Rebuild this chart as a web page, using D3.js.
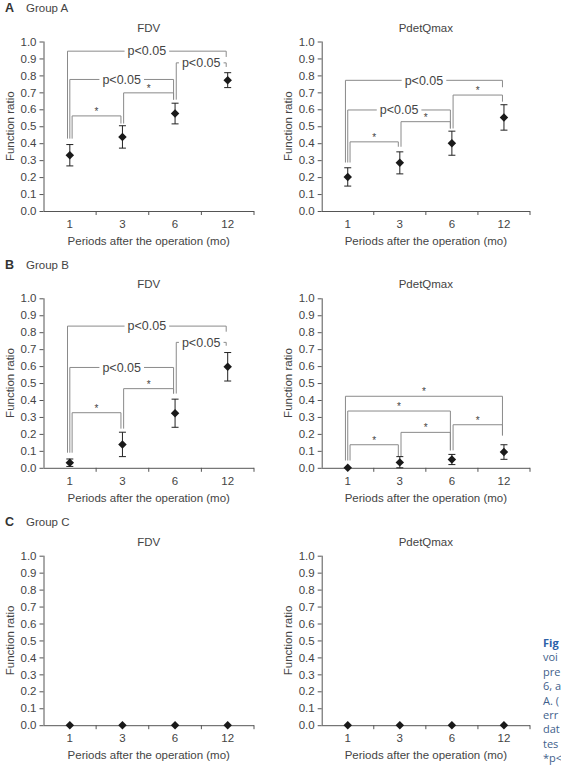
<!DOCTYPE html>
<html>
<head>
<meta charset="utf-8">
<script src="https://cdn.jsdelivr.net/npm/d3@7"></script>
<style>
  body { margin: 0; background: #fff; }
  svg { display: block; font-family: "Liberation Sans", Arial, sans-serif; }
</style>
</head>
<body>
<div id="chart"></div>
<script>
// Periods (months after the operation)
const periods = ['1', '3', '6', '12'];

// Group A
const aFdvMean = [0.329, 0.437, 0.575, 0.772];
const aFdvErr = [0.063, 0.066, 0.061, 0.044];
const aPdetMean = [0.201, 0.284, 0.400, 0.552];
const aPdetErr = [0.054, 0.065, 0.071, 0.075];

// Group B
const bFdvMean = [0.030, 0.138, 0.322, 0.596];
const bFdvErr = [0.022, 0.072, 0.083, 0.084];
const bPdetMean = [0.000, 0.032, 0.049, 0.093];
const bPdetErr = [0.000, 0.034, 0.030, 0.043];

// Group C
const cFdvMean = [0, 0, 0, 0];
const cPdetMean = [0, 0, 0, 0];
const cErr = [0, 0, 0, 0];

// Significance brackets: [from, to, bar level, left foot, right foot, label]
const aFdvSig = [
  ['1', '3', 0.561, 0.427, 0.516, '*'],
  ['3', '6', 0.697, 0.516, 0.657, '*'],
  ['1', '6', 0.776, 0.427, 0.657, 'p<0.05'],
  ['6', '12', 0.874, 0.657, 0.850, 'p<0.05'],
  ['1', '12', 0.943, 0.427, 0.909, 'p<0.05']
];
const aPdetSig = [
  ['1', '3', 0.408, 0.286, 0.379, '*'],
  ['3', '6', 0.527, 0.379, 0.487, '*'],
  ['1', '6', 0.596, 0.286, 0.487, 'p<0.05'],
  ['6', '12', 0.684, 0.487, 0.645, '*'],
  ['1', '12', 0.771, 0.286, 0.730, 'p<0.05']
];
const bFdvSig = [
  ['1', '3', 0.325, 0.089, 0.231, '*'],
  ['3', '6', 0.467, 0.231, 0.438, '*'],
  ['1', '6', 0.592, 0.089, 0.438, 'p<0.05'],
  ['6', '12', 0.740, 0.438, 0.720, 'p<0.05'],
  ['1', '12', 0.836, 0.089, 0.803, 'p<0.05']
];
const bPdetSig = [
  ['1', '3', 0.136, 0.043, 0.067, '*'],
  ['3', '6', 0.209, 0.067, 0.103, '*'],
  ['6', '12', 0.254, 0.103, 0.191, '*'],
  ['1', '6', 0.335, 0.043, 0.103, '*'],
  ['1', '12', 0.422, 0.043, 0.191, '*']
];

const yTicks = [0, 0.1, 0.2, 0.3, 0.4, 0.5, 0.6, 0.7, 0.8, 0.9, 1.0];

// caption of the figure, only its start shows at the page edge
const captionLines = ['Fig', 'voi', 'pre', '6, a', 'A. (', 'err', 'dat', 'tes', '*p<'];

const rows = [
  { letter: 'A', name: 'Group A', top: 41.5,
    panels: [
      { title: 'FDV', mean: aFdvMean, err: aFdvErr, sig: aFdvSig },
      { title: 'PdetQmax', mean: aPdetMean, err: aPdetErr, sig: aPdetSig }
    ] },
  { letter: 'B', name: 'Group B', top: 298.3,
    panels: [
      { title: 'FDV', mean: bFdvMean, err: bFdvErr, sig: bFdvSig },
      { title: 'PdetQmax', mean: bPdetMean, err: bPdetErr, sig: bPdetSig }
    ] },
  { letter: 'C', name: 'Group C', top: 555.7,
    panels: [
      { title: 'FDV', mean: cFdvMean, err: cErr, sig: [] },
      { title: 'PdetQmax', mean: cPdetMean, err: cErr, sig: [] }
    ] }
];

const width = 561, height = 771;
const plotH = 169.5;
const cols = [{ x0: 43.5, x1: 254 }, { x0: 321.7, x1: 530 }];

const axisColor = '#555';
const textColor = '#444';
const bracketColor = '#8a8a8a';

const svg = d3.select('#chart').append('svg')
  .attr('width', width)
  .attr('height', height)
  .attr('viewBox', [0, 0, width, height]);

rows.forEach(row => {
  // Row heading
  svg.append('text')
    .attr('x', 5).attr('y', row.top - 29.5)
    .attr('font-size', 12.5).attr('font-weight', 'bold')
    .attr('fill', '#333')
    .text(row.letter);
  svg.append('text')
    .attr('x', 26).attr('y', row.top - 29.5)
    .attr('font-size', 11.5)
    .attr('fill', textColor)
    .text(row.name);

  row.panels.forEach((p, ci) => {
    const c = cols[ci];
    const x = d3.scaleBand().domain(periods).range([c.x0, c.x1]).padding(0);
    const y = d3.scaleLinear().domain([0, 1]).range([row.top + plotH, row.top]);
    const g = svg.append('g');

    // Title
    g.append('text')
      .attr('x', (c.x0 + c.x1) / 2).attr('y', row.top - 10)
      .attr('text-anchor', 'middle')
      .attr('font-size', 11.5).attr('fill', textColor)
      .text(p.title);

    // Y axis
    const yAxis = g.append('g')
      .attr('transform', `translate(${c.x0},0)`)
      .call(d3.axisLeft(y).tickValues(yTicks).tickFormat(d3.format('.1f')).tickSize(4).tickPadding(3));
    yAxis.select('.domain').attr('stroke', axisColor).attr('d', `M0.5,${y(1)}V${y(0)}`);
    yAxis.selectAll('.tick line').attr('stroke', axisColor);
    yAxis.selectAll('.tick text').attr('font-size', 11.5).attr('fill', textColor)
      .attr('font-family', '"Liberation Sans", Arial, sans-serif');

    // X axis: ticks on band edges, labels at band centres
    const xb = g.append('g').attr('transform', `translate(0,${y(0)})`);
    xb.append('line').attr('x1', c.x0).attr('x2', c.x1)
      .attr('y1', 0.5).attr('y2', 0.5).attr('stroke', axisColor);
    const edges = periods.map(d => x(d) + x.bandwidth());
    xb.selectAll('.edge').data(edges).join('line')
      .attr('x1', d => d).attr('x2', d => d)
      .attr('y1', 0).attr('y2', 4).attr('stroke', axisColor);
    xb.selectAll('.lab').data(periods).join('text')
      .attr('x', d => x(d) + x.bandwidth() / 2).attr('y', 17)
      .attr('text-anchor', 'middle')
      .attr('font-size', 11.5).attr('fill', textColor)
      .text(d => d);

    // Axis titles
    g.append('text')
      .attr('x', (c.x0 + c.x1) / 2).attr('y', y(0) + 34)
      .attr('text-anchor', 'middle')
      .attr('font-size', 11.5).attr('fill', textColor)
      .text('Periods after the operation (mo)');
    g.append('text')
      .attr('transform', `translate(${c.x0 - 30},${(y(0) + y(1)) / 2}) rotate(-90)`)
      .attr('text-anchor', 'middle')
      .attr('font-size', 11.5).attr('fill', textColor)
      .text('Function ratio');

    const cx = d => x(d) + x.bandwidth() / 2;

    // Significance brackets
    p.sig.forEach(s => {
      const [from, to, lv, lf, rf, label] = s;
      const span = periods.indexOf(to) - periods.indexOf(from);
      const lx = cx(from) + (from === periods[0] ? (2 - span) * 2.3 : 1.2);
      const rx = cx(to) - 1.5;
      g.append('path')
        .attr('d', `M${lx},${y(lf)}V${y(lv)}H${rx}V${y(rf)}`)
        .attr('fill', 'none')
        .attr('stroke', bracketColor)
        .attr('stroke-width', 1);
      const mx = (lx + rx) / 2;
      if (label === '*') {
        g.append('text')
          .attr('x', mx).attr('y', y(lv) - 1)
          .attr('text-anchor', 'middle')
          .attr('font-size', 10).attr('fill', textColor)
          .text(label);
      } else {
        const t = g.append('text')
          .attr('x', mx).attr('y', y(lv) + 4.3)
          .attr('text-anchor', 'middle')
          .attr('font-size', 12.5).attr('fill', textColor)
          .text(label);
        const bb = t.node().getBBox();
        g.insert('rect', () => t.node())
          .attr('x', bb.x - 3).attr('y', y(lv) - 2)
          .attr('width', bb.width + 6).attr('height', 4)
          .attr('fill', '#fff');
      }
    });

    // Error bars
    const eb = g.append('g').attr('stroke', '#222').attr('stroke-width', 1);
    periods.forEach((d, i) => {
      const e = p.err[i];
      if (!e) return;
      const lo = Math.max(0, p.mean[i] - e), hi = p.mean[i] + e;
      eb.append('line').attr('x1', cx(d)).attr('x2', cx(d)).attr('y1', y(lo)).attr('y2', y(hi));
      eb.append('line').attr('x1', cx(d) - 3.5).attr('x2', cx(d) + 3.5).attr('y1', y(lo)).attr('y2', y(lo));
      eb.append('line').attr('x1', cx(d) - 3.5).attr('x2', cx(d) + 3.5).attr('y1', y(hi)).attr('y2', y(hi));
    });

    // Mean points (diamonds)
    g.selectAll('.pt').data(p.mean).join('path')
      .attr('d', d3.symbol(d3.symbolSquare, 36))
      .attr('transform', (d, i) => `translate(${cx(periods[i])},${y(d)}) rotate(45)`)
      .attr('fill', '#1a1a1a');
  });
});

// Cut-off figure caption at the right edge, one text block
const cap = svg.append('text')
  .attr('font-family', '"Open Sans", "Noto Sans", sans-serif')
  .attr('font-size', 11)
  .attr('fill', '#3f5f8c');
cap.selectAll('tspan').data(captionLines).join('tspan')
  .attr('x', 543)
  .attr('y', (d, i) => 647 + i * 14.4)
  .attr('font-weight', (d, i) => i === 0 ? 'bold' : 'normal')
  .attr('fill', (d, i) => i === 0 ? '#2d62a8' : null)
  .text(d => d);
</script>
</body>
</html>
